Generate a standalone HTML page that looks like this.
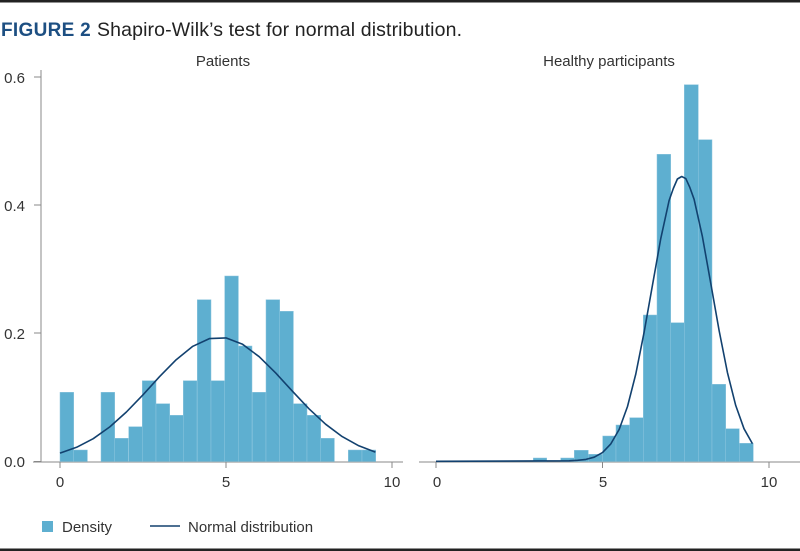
<!DOCTYPE html>
<html><head><style>
body{margin:0;background:#fff;}
svg{display:block;font-family:"Liberation Sans",Arial,sans-serif;}
</style></head><body>
<svg width="800" height="551" viewBox="0 0 800 551" xmlns="http://www.w3.org/2000/svg">
<rect x="0" y="0" width="800" height="2.5" fill="#222"/>
<rect x="0" y="548.5" width="800" height="2.5" fill="#222"/>
<text x="1" y="36" font-size="19" fill="#1d4f82" font-weight="bold" letter-spacing="0.3">FIGURE 2</text>
<text x="97" y="36" font-size="19.5" fill="#222" textLength="365">Shapiro-Wilk’s test for normal distribution.</text>
<text x="223" y="66" font-size="15" fill="#333" text-anchor="middle">Patients</text>
<text x="609" y="66" font-size="15" fill="#333" text-anchor="middle">Healthy participants</text>
<g fill="#333" font-size="15" text-anchor="end">
<text x="25" y="83">0.6</text><text x="25" y="211">0.4</text><text x="25" y="339">0.2</text><text x="25" y="467">0.0</text>
</g>
<g stroke="#888" stroke-width="1">
<line x1="41" y1="70" x2="41" y2="462"/>
<line x1="34" y1="77" x2="41" y2="77"/><line x1="34" y1="205" x2="41" y2="205"/><line x1="34" y1="333" x2="41" y2="333"/><line x1="34" y1="461.5" x2="41" y2="461.5"/>
<line x1="33" y1="462" x2="403" y2="462"/>
<line x1="60" y1="462" x2="60" y2="468"/><line x1="226" y1="462" x2="226" y2="468"/><line x1="392" y1="462" x2="392" y2="468"/>
<line x1="419" y1="462" x2="800" y2="462"/>
<line x1="436" y1="462" x2="436" y2="468"/><line x1="602.5" y1="462" x2="602.5" y2="468"/><line x1="769" y1="462" x2="769" y2="468"/>
</g>
<g fill="#333" font-size="15" text-anchor="middle">
<text x="60" y="487">0</text><text x="226" y="487">5</text><text x="392" y="487">10</text>
<text x="437" y="487">0</text><text x="603" y="487">5</text><text x="769" y="487">10</text>
</g>
<g fill="#5eafd0" stroke="#8ec6de" stroke-width="0.5">
<rect x="60" y="392.3" width="13.7" height="69.2"/>
<rect x="73.7" y="450" width="13.7" height="11.5"/>
<rect x="101" y="392.3" width="13.7" height="69.2"/>
<rect x="114.7" y="438.3" width="13.7" height="23.2"/>
<rect x="128.7" y="426.7" width="13.7" height="34.8"/>
<rect x="142.3" y="380.7" width="13.7" height="80.8"/>
<rect x="156" y="403.7" width="13.7" height="57.8"/>
<rect x="169.7" y="415.3" width="13.7" height="46.2"/>
<rect x="183.3" y="380.7" width="13.7" height="80.8"/>
<rect x="197.3" y="299.7" width="13.7" height="161.8"/>
<rect x="211" y="380.7" width="13.7" height="80.8"/>
<rect x="224.7" y="276" width="13.7" height="185.5"/>
<rect x="238.3" y="346" width="13.7" height="115.5"/>
<rect x="252.3" y="392.3" width="13.7" height="69.2"/>
<rect x="266" y="299.7" width="13.7" height="161.8"/>
<rect x="279.7" y="311.3" width="13.7" height="150.2"/>
<rect x="293.3" y="403.7" width="13.7" height="57.8"/>
<rect x="307" y="415.3" width="13.7" height="46.2"/>
<rect x="320.7" y="438.3" width="13.7" height="23.2"/>
<rect x="348.3" y="450" width="13.7" height="11.5"/>
<rect x="362" y="450" width="13.7" height="11.5"/>

<rect x="533.3" y="458" width="13.4" height="3.5"/>
<rect x="560.7" y="458" width="13.6" height="3.5"/>
<rect x="574.3" y="450.3" width="14" height="11.2"/>
<rect x="588.3" y="454.3" width="14.4" height="7.2"/>
<rect x="602.7" y="436" width="13.3" height="25.5"/>
<rect x="616" y="425" width="13.7" height="36.5"/>
<rect x="629.7" y="417.7" width="13.6" height="43.8"/>
<rect x="643.3" y="315" width="13.7" height="146.5"/>
<rect x="657" y="154.3" width="13.7" height="307.2"/>
<rect x="670.7" y="322.7" width="13.6" height="138.8"/>
<rect x="684.3" y="84.7" width="14" height="376.8"/>
<rect x="698.3" y="139.7" width="13.7" height="321.8"/>
<rect x="712" y="384.3" width="13.7" height="77.2"/>
<rect x="725.7" y="428.7" width="13.6" height="32.8"/>
<rect x="739.3" y="443.3" width="14" height="18.2"/>
</g>
<g fill="none" stroke="#12416f" stroke-width="1.6" stroke-linejoin="round">
<polyline points="60,453.1 76.6,447.3 93.2,438.7 109.8,426.9 126.4,412 143,394.8 159.6,376.6 176.2,359.7 192.8,346.3 209.4,338.6 226,337.9 242.6,344.3 259.2,356.7 275.8,373.1 292.4,391.2 309,408.8 325.6,424.2 342.2,436.6 358.8,445.8 375.4,452.1"/>
<polyline points="436,461.3 569.2,460.8 577.5,460.3 585.9,459.4 594.2,457.2 602.5,452.6 610.8,443.9 619.2,429.4 627.5,406.5 635.8,374 644.1,332.3 652.5,285 660.8,238.4 669.1,200.5 673.3,188.5 677.4,179 681.7,176.5 685.8,178.6 689.9,187.6 694.1,199.3 702.4,236.6 710.7,283 719.1,330.5 727.4,372.4 735.7,405.4 744,428.7 752.4,443.6"/>
</g>
<rect x="42" y="521" width="11" height="11" fill="#5eafd0"/>
<text x="62" y="532" font-size="15" fill="#333">Density</text>
<line x1="150" y1="526" x2="180" y2="526" stroke="#12416f" stroke-width="1.6"/>
<text x="188" y="532" font-size="15" fill="#333">Normal distribution</text>
</svg>
</body></html>
